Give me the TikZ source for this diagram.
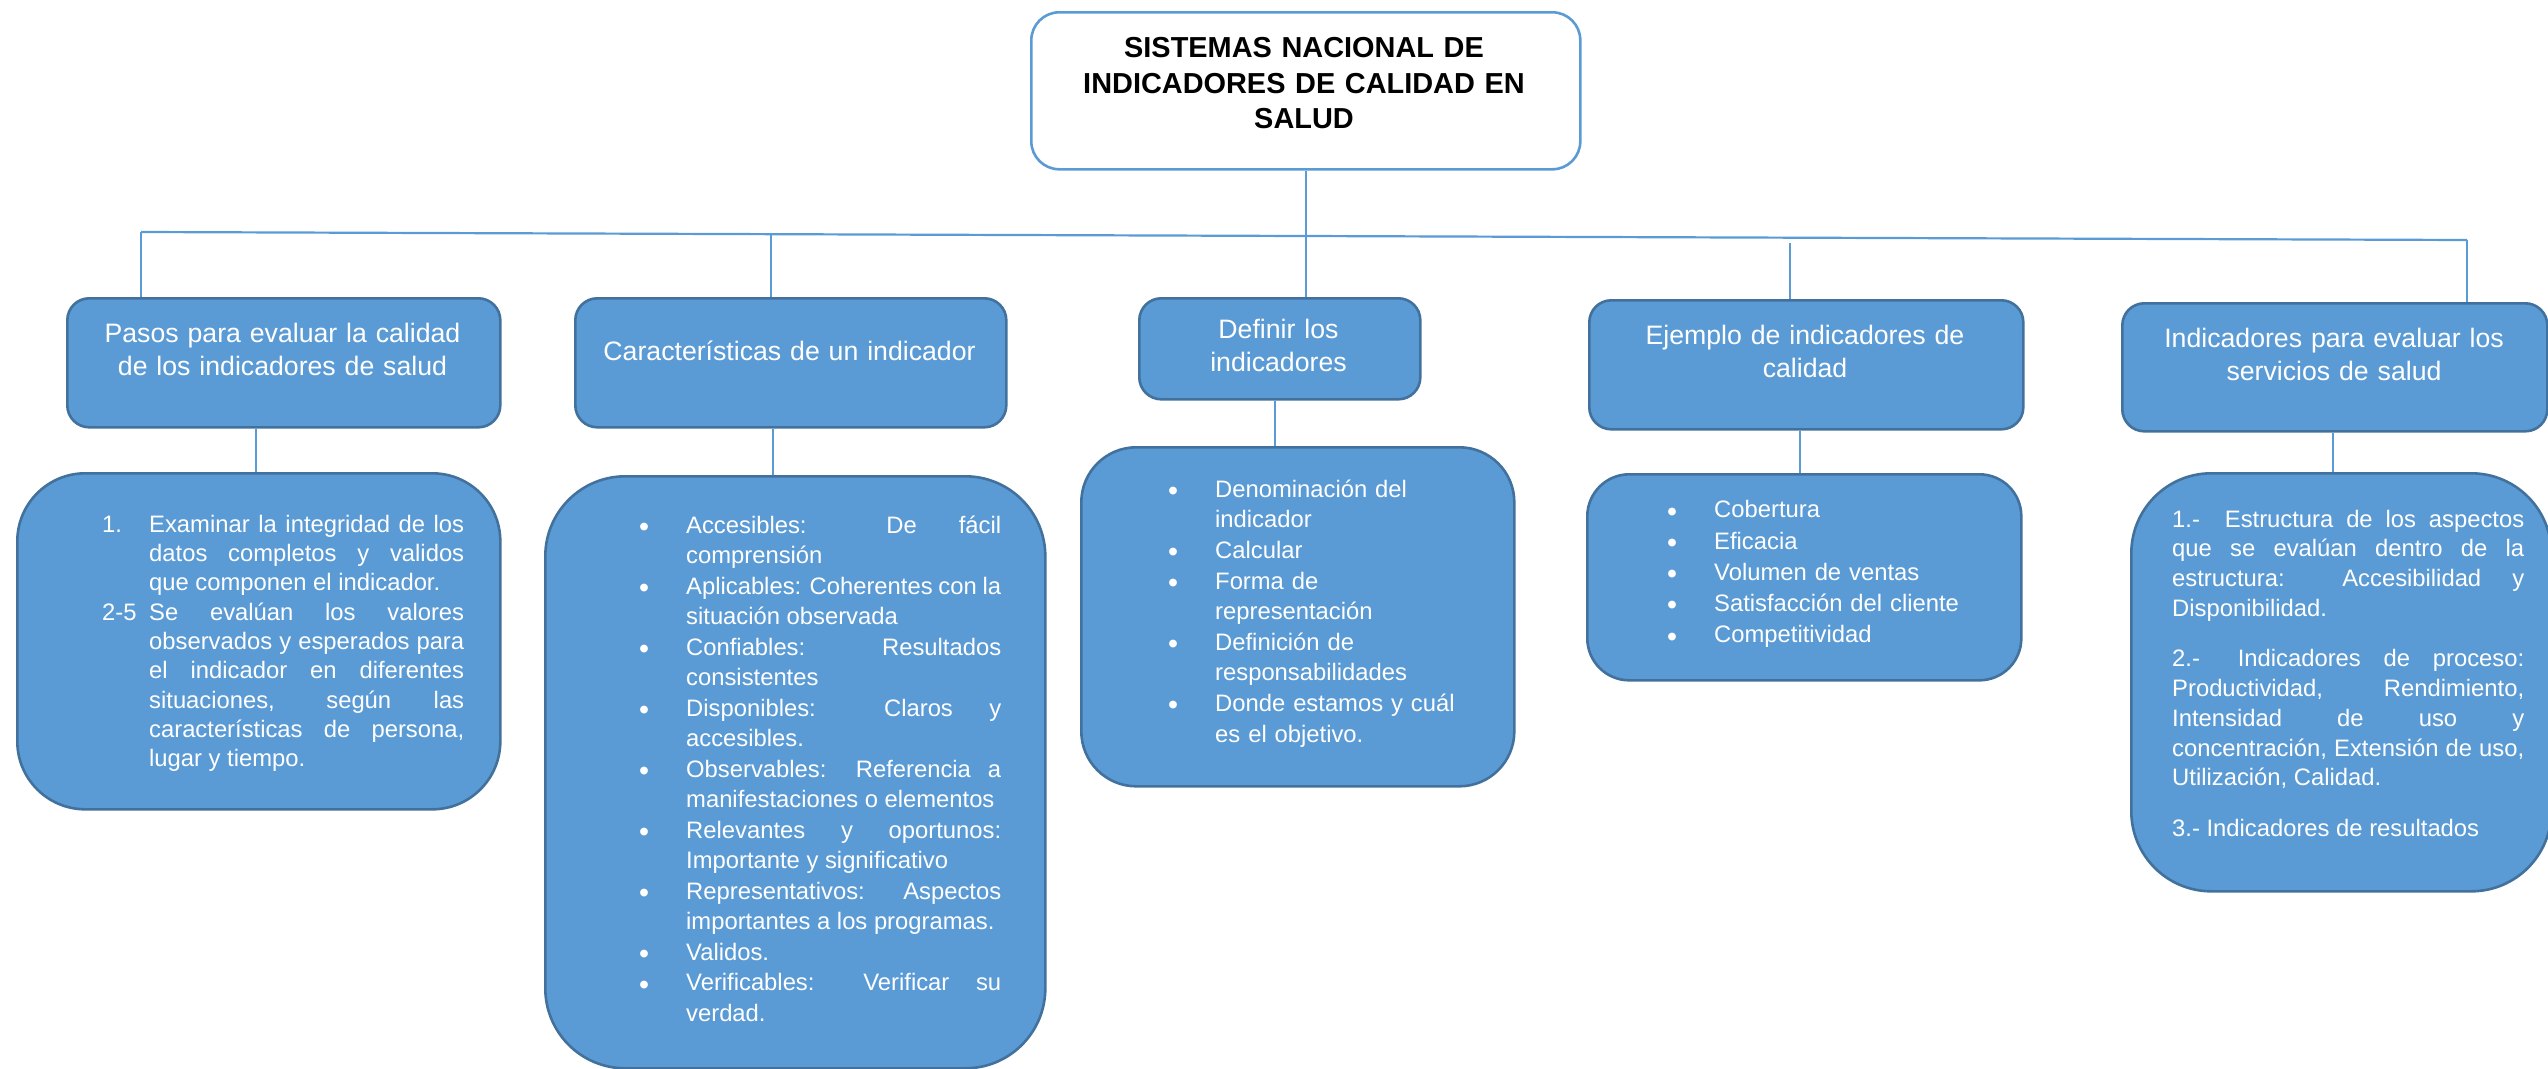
\documentclass[tikz,border=0pt]{standalone}
\usepackage{fontspec}
\setmainfont{Liberation Sans}
\usetikzlibrary{calc}
\definecolor{boxfill}{HTML}{5B9BD5}
\definecolor{boxline}{HTML}{41719C}
\definecolor{linkc}{HTML}{5B9BD5}
\hyphenpenalty=10000 \exhyphenpenalty=10000 \tolerance=9999
\newcommand\bigbul{\raisebox{-0.14em}{\scalebox{1.2}{\textbullet}}}
\newcommand\bul[1]{\noindent\hangindent=47pt\hangafter=1\strut\makebox[47pt][l]{\bigbul}#1\par}
\newcommand\numit[2]{\noindent\hangindent=47pt\hangafter=1\strut\makebox[47pt][l]{#1}#2\par}
\begin{document}
\begin{tikzpicture}[x=1pt,y=-1pt,
  box/.style={draw=boxline, fill=boxfill, line width=2.6pt, inner sep=0pt, anchor=north west},
  tbox/.style={draw=linkc, fill=white, line width=2.6pt, inner sep=0pt, anchor=north west, rounded corners=28pt},
  link/.style={draw=linkc, line width=1.5pt},
  bus/.style={draw=linkc, line width=2.2pt},
  htext/.style={text=white, inner sep=0pt, anchor=north, text width=420pt, align=center, font=\fontsize{26.67}{33}\selectfont},
  ltext/.style={text=white, inner sep=0pt, anchor=north west}]
\useasboundingbox (0,0) rectangle (2548,1068);

% title
\node[tbox, minimum width=549pt, minimum height=157pt] (top) at (1030,11) {};
\node[inner sep=0pt, anchor=north, text width=540pt, align=center, font=\bfseries\fontsize{28.9}{35.7}\selectfont] (toptext) at (1304,32.2) {\strut SISTEMAS NACIONAL DE\\ INDICADORES DE CALIDAD EN\\ SALUD};

% header boxes
\node[box, rounded corners=22pt, minimum width=433pt, minimum height=129pt] (b1) at (66,297) {};
\node[box, rounded corners=22pt, minimum width=431pt, minimum height=129pt] (b2) at (574,297) {};
\node[box, rounded corners=22pt, minimum width=281pt, minimum height=101pt] (b3) at (1138,297) {};
\node[box, rounded corners=22pt, minimum width=434pt, minimum height=129pt] (b4) at (1588,299) {};
\node[box, rounded corners=22pt, minimum width=425pt, minimum height=128pt] (b5) at (2121,302) {};

\node[htext] (h1t) at (282.5,318.9) {\strut Pasos para evaluar la calidad\\ de los indicadores de salud};
\node[htext] (h2t) at (789.5,336.9) {\strut Características de un indicador};
\node[htext] (h3t) at (1278.5,314.9) {\strut Definir los\\ indicadores};
\node[htext] (h4t) at (1805,320.9) {\strut Ejemplo de indicadores de\\ calidad};
\node[htext] (h5t) at (2334,323.9) {\strut Indicadores para evaluar los\\ servicios de salud};

% lower boxes
\node[box, rounded corners=68pt, minimum width=483pt, minimum height=336pt] (b1b) at (16,472) {};
\node[box, rounded corners=80pt, minimum width=500pt, minimum height=592pt] (b2b) at (544,475) {};
\node[box, rounded corners=55pt, minimum width=433pt, minimum height=339pt] (b3b) at (1080,446) {};
\node[box, rounded corners=42pt, minimum width=434pt, minimum height=206pt] (b4b) at (1586,473) {};
\node[box, rounded corners=80pt, minimum width=420pt, minimum height=418pt] (b5b) at (2130,472) {};

\node[ltext, text width=362pt, align=justify, font=\fontsize{23.8}{29.3}\selectfont] (t1b) at (102,511.5) {%
\numit{1.}{Examinar la integridad de los\linebreak datos completos y validos\linebreak que componen el indicador.}%
\numit{2-5}{Se evalúan los valores\linebreak observados y esperados para\linebreak el indicador en diferentes\linebreak situaciones, según las\linebreak características de persona,\linebreak lugar y tiempo.}};

\node[ltext, text width=362pt, align=justify, font=\fontsize{23.8}{30.5}\selectfont] (t2b) at (639,511.7) {%
\bul{Accesibles: De fácil\linebreak comprensión}%
\bul{Aplicables: Coherentes con la\linebreak situación observada}%
\bul{Confiables: Resultados\linebreak consistentes}%
\bul{Disponibles: Claros y\linebreak accesibles.}%
\bul{Observables: Referencia a\linebreak manifestaciones o elementos}%
\bul{Relevantes y oportunos:\linebreak Importante y significativo}%
\bul{Representativos: Aspectos\linebreak importantes a los programas.}%
\bul{Validos.}%
\bul{Verificables: Verificar su\linebreak verdad.}};

\node[ltext, text width=340pt, align=left, font=\fontsize{23.8}{30.6}\selectfont] (t3b) at (1168,475.6) {%
\bul{Denominación del\newline indicador}%
\bul{Calcular}%
\bul{Forma de\newline representación}%
\bul{Definición de\newline responsabilidades}%
\bul{Donde estamos y cuál\newline es el objetivo.}};

\node[ltext, text width=340pt, align=left, font=\fontsize{23.8}{31.25}\selectfont] (t4b) at (1667,495.8) {%
\bul{Cobertura}%
\bul{Eficacia}%
\bul{Volumen de ventas}%
\bul{Satisfacción del cliente}%
\bul{Competitividad}};

\node[ltext, text width=352pt, align=justify, font=\fontsize{23.8}{29.7}\selectfont] (t5b) at (2172,506.2) {%
\parskip=21pt
\noindent\strut 1.-\hspace{12pt} Estructura de los aspectos\linebreak que se evalúan dentro de la\linebreak estructura: Accesibilidad y\linebreak Disponibilidad.\par
\noindent\strut 2.-\hspace{15pt} Indicadores de proceso:\linebreak Productividad, Rendimiento,\linebreak Intensidad de uso y\linebreak concentración, Extensión de uso,\linebreak Utilización, Calidad.\par
\noindent\strut 3.- Indicadores de resultados\par};

% connectors
\coordinate (busL) at (141,232);
\coordinate (busR) at (2467,240);
\coordinate (d2) at (771,234.2);
\coordinate (d4) at (1790,243);
\draw[bus] (busL) -- (busR);
\draw[link] (busL) -- (busL |- b1.north);
\draw[link] (d2) -- (d2 |- b2.north);
\draw[link] (top.south) -- (top.south |- b3.north);
\draw[link] (d4) -- (d4 |- b4.north);
\draw[link] (busR) -- (busR |- b5.north);

\coordinate (x1) at (256,0);
\coordinate (x2) at (773,0);
\coordinate (x3) at (1275,0);
\coordinate (x4) at (1800,0);
\coordinate (x5) at (2333,0);
\draw[link] (x1 |- b1.south) -- (x1 |- b1b.north);
\draw[link] (x2 |- b2.south) -- (x2 |- b2b.north);
\draw[link] (x3 |- b3.south) -- (x3 |- b3b.north);
\draw[link] (x4 |- b4.south) -- (x4 |- b4b.north);
\draw[link] (x5 |- b5.south) -- (x5 |- b5b.north);
\end{tikzpicture}
\end{document}
